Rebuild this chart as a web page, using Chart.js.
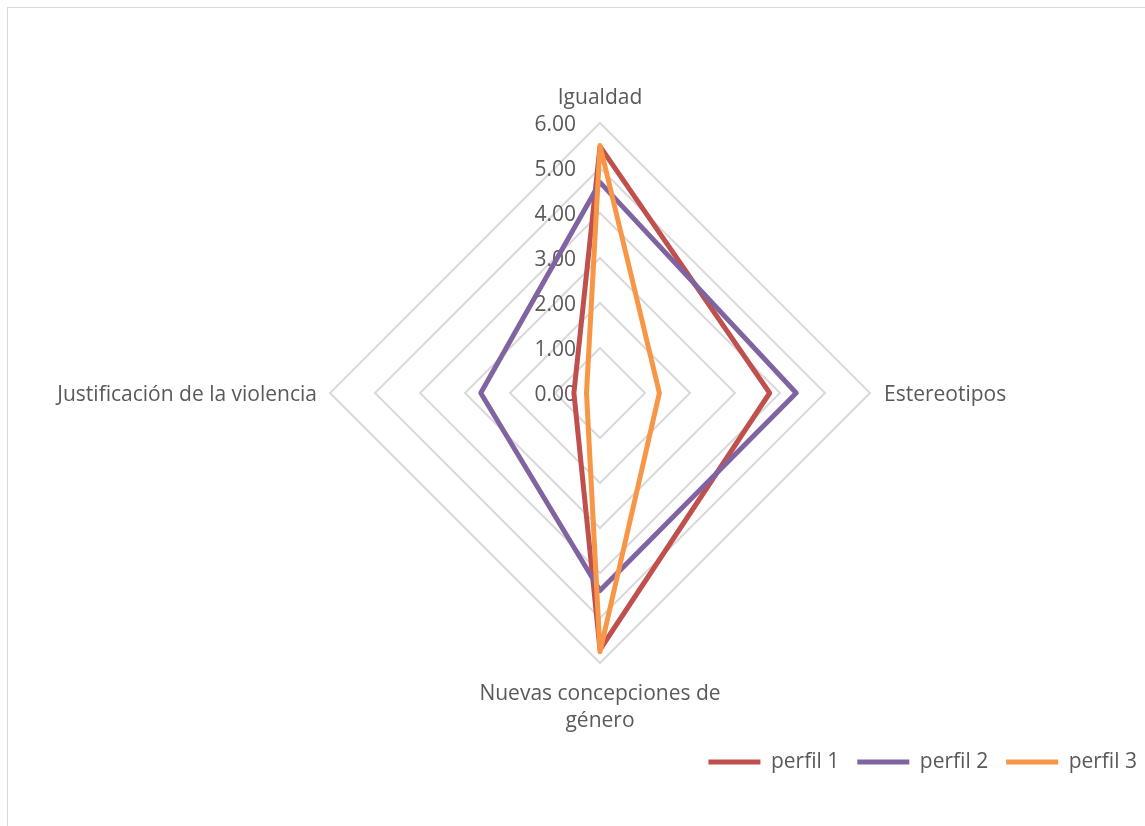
<!DOCTYPE html>
<html>
<head>
<meta charset="utf-8">
<script src="https://cdn.jsdelivr.net/npm/chart.js@4.4.1/dist/chart.umd.min.js"></script>
<style>
    body { margin: 0; overflow: hidden; background: #fff; }
    #frame { position: absolute; left: 7px; top: 7px; width: 2000px; height: 2000px; border: 1.5px solid #d9d9d9; }
    #wrap { position: absolute; left: 0; top: 0; width: 1160px; height: 826px; }
</style>
</head>
<body>
<div id="frame"></div>
<div id="wrap"><canvas id="chartRadar" width="1160" height="826"></canvas></div>
<script>
const categories = ['Igualdad', 'Estereotipos', 'Nuevas concepciones de género', 'Justificación de la violencia']
const seriesNames = ['perfil 1', 'perfil 2', 'perfil 3']
const perfil1 = [5.48, 3.77, 5.70, 0.58]
const perfil2 = [4.68, 4.36, 4.39, 2.65]
const perfil3 = [5.50, 1.32, 5.75, 0.30]
const tickValues = [0, 1, 2, 3, 4, 5, 6]

const colors = ['#c0504d', '#8064a2', '#f79646']
const textColor = '#595959'
const fontFamily = '"Open Sans", "Noto Sans", sans-serif'
const fontSize = 21

// category labels around the web: extra distance, align, and lines
const labelLayout = [
    { pad: 19.5, align: 'center', dy: 0, lines: ['Igualdad'] },
    { pad: 14, align: 'left', dy: 8, lines: ['Estereotipos'] },
    { pad: 36.5, align: 'center', dy: 0, lines: ['Nuevas concepciones de', 'género'] },
    { pad: 13, align: 'right', dy: 8, lines: ['Justificación de la violencia'] }
]

const radarLabels = {
    id: 'radarLabels',
    beforeDatasetsDraw(chart) {
        const r = chart.scales.r
        const ctx = chart.ctx
        ctx.save()
        ctx.font = `${fontSize}px ${fontFamily}`
        ctx.fillStyle = textColor

        // value labels, right aligned left of the vertical axis
        ctx.textAlign = 'right'
        ctx.textBaseline = 'middle'
        tickValues.forEach(v => {
            const y = r.yCenter - r.getDistanceFromCenterForValue(v)
            ctx.fillText(v.toFixed(2), r.xCenter - 24, y + 2)
        })

        // category labels
        ctx.textBaseline = 'alphabetic'
        labelLayout.forEach((lab, i) => {
            const p = r.getPointPosition(i, r.drawingArea + lab.pad)
            ctx.textAlign = lab.align
            lab.lines.forEach((line, k) => {
                ctx.fillText(line, p.x, p.y + lab.dy + k * 27)
            })
        })
        ctx.restore()
    }
}

new Chart(document.getElementById('chartRadar'), {
    type: 'radar',
    data: {
        labels: categories,
        datasets: [perfil1, perfil2, perfil3].map((values, i) => ({
            label: seriesNames[i],
            data: values,
            borderColor: colors[i],
            backgroundColor: colors[i],
            borderWidth: 5,
            borderCapStyle: 'round',
            borderJoinStyle: 'round',
            pointRadius: 0,
            pointHoverRadius: 0,
            fill: false,
            order: 3 - i
        }))
    },
    options: {
        responsive: false,
        animation: false,
        layout: { padding: { left: 45, right: 5, top: 123, bottom: 43.5 } },
        scales: {
            r: {
                min: 0,
                max: 6,
                ticks: { stepSize: 1, display: false },
                grid: { color: '#d9d9d9', lineWidth: 2 },
                angleLines: { display: false },
                pointLabels: { display: false }
            }
        },
        plugins: {
            tooltip: { enabled: false },
            legend: {
                position: 'bottom',
                align: 'end',
                title: { display: true, text: '', font: { size: 12 }, padding: { top: 56.1, bottom: 0 } },
                labels: {
                    usePointStyle: true,
                    pointStyle: 'line',
                    pointStyleWidth: 52,
                    padding: 18,
                    color: textColor,
                    font: { family: fontFamily, size: fontSize },
                    sort: (a, b) => a.datasetIndex - b.datasetIndex
                }
            }
        }
    },
    plugins: [radarLabels]
})
</script>
</body>
</html>
